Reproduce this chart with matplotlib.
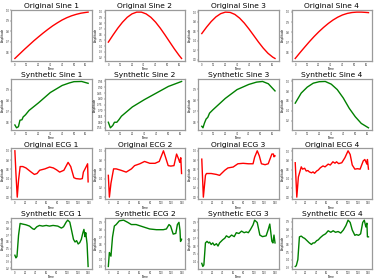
import numpy as np
import matplotlib
matplotlib.use("Agg")
import matplotlib.pyplot as plt

# ---- Sine data (time, value) ----
sine_t = [0, 4, 8, 12, 16, 20, 24, 28, 32, 36, 40, 44, 48, 52, 56, 60, 62]
orig_sine1 = [0.540, 0.583, 0.626, 0.667, 0.708, 0.746, 0.783, 0.818, 0.851, 0.880, 0.907, 0.929, 0.947, 0.961, 0.972, 0.979, 0.982]
orig_sine2 = [0.470, 0.595, 0.714, 0.819, 0.905, 0.965, 0.996, 0.996, 0.965, 0.905, 0.820, 0.714, 0.595, 0.471, 0.348, 0.234, 0.183]
orig_sine3 = [0.550, 0.683, 0.802, 0.899, 0.966, 0.998, 0.992, 0.950, 0.873, 0.769, 0.644, 0.509, 0.373, 0.247, 0.139, 0.059, 0.030]
orig_sine4 = [0.540, 0.597, 0.652, 0.706, 0.757, 0.804, 0.847, 0.886, 0.920, 0.948, 0.970, 0.985, 0.994, 0.998, 0.998, 0.995, 0.993]

syn_sine1_t = [0, 1.4, 3, 4.3, 6, 7, 9, 12, 20, 30, 40, 46, 50, 56.5, 62]
syn_sine1 = [0.576, 0.550, 0.560, 0.620, 0.624, 0.650, 0.670, 0.710, 0.780, 0.875, 0.940, 0.963, 0.975, 0.977, 0.960]
syn_sine2_t = [0, 1.7, 3.7, 5.1, 7.1, 8.9, 10.9, 20, 30, 40, 50, 61]
syn_sine2 = [0.598, 0.550, 0.570, 0.598, 0.598, 0.621, 0.650, 0.730, 0.793, 0.850, 0.907, 0.950]
syn_sine3_t = [0, 1, 2.3, 3.7, 5.1, 6.6, 9.4, 20, 30, 40, 46.6, 51.7, 56.6, 62.3]
syn_sine3 = [0.564, 0.550, 0.594, 0.630, 0.645, 0.683, 0.713, 0.817, 0.897, 0.944, 0.965, 0.971, 0.950, 0.885]
syn_sine4_t = [0, 5, 10, 15, 20, 25, 30, 35, 40, 45, 50, 55, 61]
syn_sine4 = [0.555, 0.760, 0.880, 0.960, 0.990, 0.995, 0.940, 0.830, 0.660, 0.450, 0.280, 0.144, 0.055]

# ---- ECG data (time, value) ----
orig_ecg1_t = [0, 2, 4.5, 7, 10, 15, 21, 31, 37, 42, 47, 57, 66, 73, 79, 85, 93, 101, 106, 112, 116, 124, 128, 130, 135, 138, 139]
orig_ecg1 = [1.0, 0.51, 0.0, 0.37, 0.66, 0.66, 0.63, 0.54, 0.49, 0.51, 0.58, 0.61, 0.65, 0.63, 0.59, 0.54, 0.58, 0.75, 0.66, 0.42, 0.40, 0.39, 0.40, 0.54, 0.65, 0.72, 0.33]
orig_ecg2_t = [0, 2, 5, 10, 15, 24, 34, 44, 50, 60, 69, 79, 89, 97, 105, 109, 114, 119, 125, 130, 134, 136, 138, 139.5]
orig_ecg2 = [0.47, 0.0, 0.30, 0.61, 0.61, 0.58, 0.54, 0.61, 0.68, 0.72, 0.77, 0.73, 0.73, 0.77, 1.0, 0.86, 0.68, 0.67, 0.68, 0.93, 0.82, 0.75, 0.85, 0.51]
orig_ecg3_t = [0, 3, 7, 9, 18, 28, 34, 44, 50, 60, 69, 79, 89, 98, 101, 106, 110, 114, 121, 127, 134, 137, 138, 140]
orig_ecg3 = [0.82, 0.0, 0.47, 0.51, 0.51, 0.49, 0.47, 0.58, 0.63, 0.65, 0.72, 0.73, 0.72, 0.72, 0.86, 1.0, 0.89, 0.72, 0.70, 0.72, 0.93, 0.93, 0.87, 0.89]
orig_ecg4_t = [0, 3, 6, 11.5, 14, 18, 21, 24, 27, 31, 34, 37, 41, 44, 48, 53, 57, 63, 67, 72, 76, 79, 83, 89, 95, 101, 105, 109, 114, 119, 124, 130, 133, 137, 138, 140]
orig_ecg4 = [0.75, 0.0, 0.44, 0.66, 0.61, 0.63, 0.57, 0.58, 0.55, 0.53, 0.55, 0.52, 0.57, 0.59, 0.64, 0.68, 0.66, 0.72, 0.70, 0.77, 0.74, 0.77, 0.73, 0.75, 0.86, 1.01, 0.93, 0.70, 0.61, 0.62, 0.61, 0.79, 0.82, 0.72, 0.82, 0.61]

syn_ecg1_t = [0, 2, 4, 7, 10, 15, 21, 28, 34, 37, 42, 47, 53, 60, 66, 73, 82, 89, 93, 98, 101, 105, 108, 112, 115, 118, 121, 124, 127, 130, 132, 134, 135.5, 138, 140]
syn_ecg1 = [0.40, 0.36, 0.38, 0.70, 0.88, 0.87, 0.86, 0.84, 0.80, 0.79, 0.83, 0.85, 0.84, 0.85, 0.84, 0.85, 0.84, 0.81, 0.83, 0.90, 0.93, 0.90, 0.79, 0.64, 0.60, 0.62, 0.57, 0.59, 0.64, 0.74, 0.79, 0.68, 0.74, 0.57, 0.23]
syn_ecg2_t = [0, 2, 5, 8, 11.5, 15, 21, 29, 37, 44, 53, 66, 79, 92, 105, 111, 116, 119, 124, 129, 132, 135, 137, 138, 140]
syn_ecg2 = [0.30, 0.49, 0.44, 0.70, 0.85, 0.87, 0.92, 0.93, 0.90, 0.87, 0.87, 0.84, 0.81, 0.80, 0.80, 0.81, 0.87, 0.85, 0.74, 0.75, 0.87, 0.90, 0.79, 0.64, 0.67]
syn_ecg3_t = [0, 2, 4, 7, 10, 13, 15, 18, 21, 24, 28, 31, 34, 37, 40, 44, 47, 52, 57, 62, 66, 71, 76, 81, 85, 89, 93, 98, 101, 106, 111, 116, 123, 127, 130, 134, 136, 138, 140]
syn_ecg3 = [0.38, 0.34, 0.36, 0.64, 0.66, 0.64, 0.65, 0.62, 0.64, 0.61, 0.63, 0.60, 0.64, 0.66, 0.68, 0.70, 0.73, 0.71, 0.74, 0.72, 0.77, 0.76, 0.79, 0.77, 0.78, 0.77, 0.81, 0.87, 0.93, 0.90, 0.74, 0.72, 0.73, 0.81, 0.88, 0.66, 0.64, 0.74, 0.64]
syn_ecg4_t = [0, 2, 5, 8, 11.5, 15, 18, 21, 24, 27, 31, 34, 37, 41, 44, 48, 53, 58, 63, 68, 72.5, 77, 82, 87, 92, 97, 101, 105, 109, 114, 117, 121, 125, 129, 132, 135, 137, 138, 140]
syn_ecg4 = [0.31, 0.32, 0.40, 0.70, 0.71, 0.69, 0.68, 0.66, 0.64, 0.62, 0.60, 0.62, 0.62, 0.65, 0.66, 0.69, 0.72, 0.74, 0.78, 0.76, 0.78, 0.76, 0.77, 0.75, 0.79, 0.85, 0.92, 0.89, 0.79, 0.72, 0.73, 0.72, 0.74, 0.89, 0.92, 0.83, 0.88, 0.70, 0.70]

titles = [
    ["Original Sine 1", "Original Sine 2", "Original Sine 3", "Original Sine 4"],
    ["Synthetic Sine 1", "Synthetic Sine 2", "Synthetic Sine 3", "Synthetic Sine 4"],
    ["Original ECG 1", "Original ECG 2", "Original ECG 3", "Original ECG 4"],
    ["Synthetic ECG 1", "Synthetic ECG 2", "Synthetic ECG 3", "Synthetic ECG 4"],
]

series = [
    [(sine_t, orig_sine1), (sine_t, orig_sine2), (sine_t, orig_sine3), (sine_t, orig_sine4)],
    [(syn_sine1_t, syn_sine1), (syn_sine2_t, syn_sine2), (syn_sine3_t, syn_sine3), (syn_sine4_t, syn_sine4)],
    [(orig_ecg1_t, orig_ecg1), (orig_ecg2_t, orig_ecg2), (orig_ecg3_t, orig_ecg3), (orig_ecg4_t, orig_ecg4)],
    [(syn_ecg1_t, syn_ecg1), (syn_ecg2_t, syn_ecg2), (syn_ecg3_t, syn_ecg3), (syn_ecg4_t, syn_ecg4)],
]
row_colors = ["red", "green", "red", "green"]

fig, axes = plt.subplots(4, 4, figsize=(3.74, 2.8), dpi=100)
fig.subplots_adjust(left=0.03, right=0.995, bottom=0.04, top=0.965, wspace=0.16, hspace=0.36)

for r in range(4):
    for c in range(4):
        ax = axes[r][c]
        t, v = series[r][c]
        ax.plot(t, v, color=row_colors[r], lw=1.0)
        ax.set_title(titles[r][c], fontsize=5.4, pad=1.2)
        ax.set_xlabel("Time", fontsize=2.0, labelpad=0.3)
        ax.set_ylabel("Amplitude", fontsize=2.0, labelpad=0.4)
        ax.tick_params(labelsize=1.8, length=0.8, width=0.3, pad=0.5, colors="#333333")
        if r < 2:
            ax.set_xticks([0, 10, 20, 30, 40, 50, 60])
        else:
            ax.set_xticks([0, 20, 40, 60, 80, 100, 120, 140])
        for s in ax.spines.values():
            s.set_color("#9a9a9a")
            s.set_linewidth(0.9)

fig.savefig("out.png", dpi=100)
